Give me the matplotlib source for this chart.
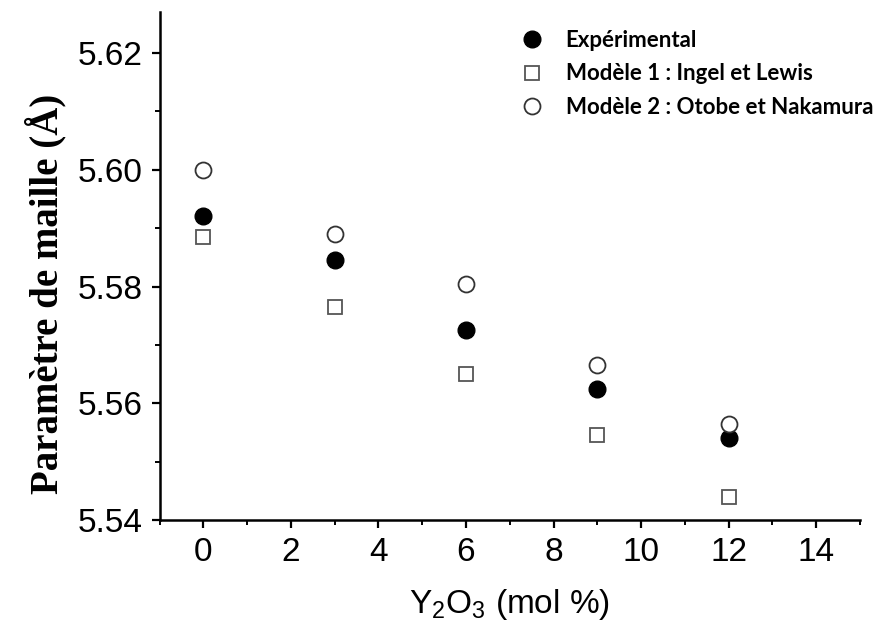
import numpy as np
import matplotlib.pyplot as plt
from matplotlib.ticker import MultipleLocator

# teneur en Y2O3 (mol %)
y2o3 = [0, 3, 6, 9, 12]
# paramètre de maille (Å)
experimental = [5.592, 5.5845, 5.5725, 5.5625, 5.554]
modele1 = [5.5885, 5.5765, 5.565, 5.5545, 5.544]
modele2 = [5.600, 5.589, 5.5805, 5.5665, 5.5565]

labels = ["Expérimental", "Modèle 1 : Ingel et Lewis", "Modèle 2 : Otobe et Nakamura"]

fig = plt.figure(figsize=(8.82, 6.42), dpi=100)
ax = fig.add_axes([0.181, 0.19, 0.794, 0.791])

ax.plot(y2o3, experimental, "o", ms=12, color="black", label=labels[0])
ax.plot(y2o3, modele1, "s", ms=9.5, mfc="white", mec="#555555", mew=1.3, label=labels[1])
ax.plot(y2o3, modele2, "o", ms=11.5, mfc="white", mec="#333333", mew=1.3, label=labels[2])

ax.set_xlim(-1, 15)
ax.set_ylim(5.54, 5.627)
ax.xaxis.set_major_locator(MultipleLocator(2))
ax.xaxis.set_minor_locator(MultipleLocator(1))
ax.yaxis.set_major_locator(MultipleLocator(0.02))
ax.yaxis.set_minor_locator(MultipleLocator(0.01))
ax.yaxis.set_major_formatter(plt.FormatStrFormatter("%.2f"))

for s in ["top", "right"]:
    ax.spines[s].set_visible(False)
for s in ["left", "bottom"]:
    ax.spines[s].set_linewidth(1.8)

ax.tick_params(which="major", direction="out", length=6, width=1.6,
               labelsize=24, pad=6)
ax.tick_params(which="minor", direction="out", length=3.5, width=1.4)
for lab in ax.get_xticklabels() + ax.get_yticklabels():
    lab.set_family("Liberation Sans")

ax.set_xlabel("Y$_\\mathregular{2}$O$_\\mathregular{3}$ (mol %)", fontsize=24,
              family="Liberation Sans", labelpad=14)
ax.set_ylabel("Paramètre de maille (Å)", fontsize=28, family="Liberation Serif",
              fontweight="bold")
ax.yaxis.set_label_coords(-0.133, 0.445)

ax.legend(loc="upper left", bbox_to_anchor=(510 / 882, 1 - 19 / 642),
          bbox_transform=fig.transFigure, frameon=False, borderpad=0,
          handlelength=1.0, handletextpad=1.0, labelspacing=0.55,
          prop={"family": "Lato", "weight": "bold", "size": 16})

fig.savefig("out.png", dpi=100)
